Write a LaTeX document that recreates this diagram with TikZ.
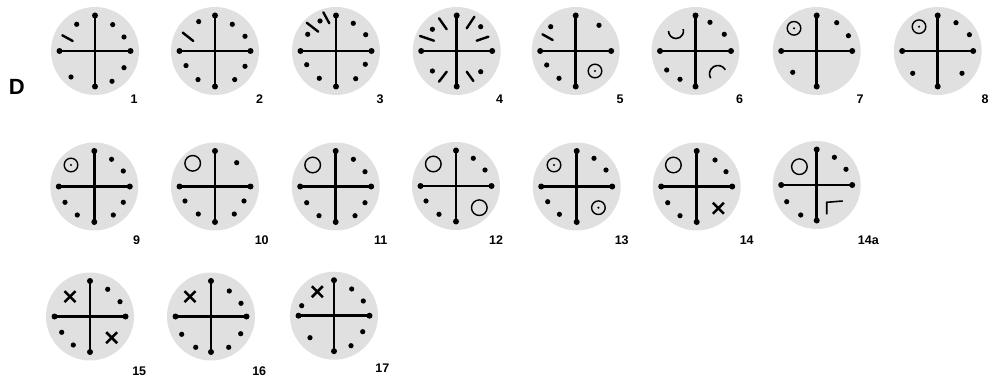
\documentclass[tikz,border=0pt]{standalone}
\usepackage{fontspec}
\setmainfont{Liberation Sans}
\tikzset{
  x=1pt, y=-1pt,
  discfill/.style={fill=black!12},
  arm/.style={line width=2.6pt},
  dashm/.style={line width=2.4pt, line cap=round},
  ringm/.style={line width=1.4pt},
  crossm/.style={line width=2.5pt},
  numlabel/.style={inner sep=0pt, font=\fontsize{12.5}{14}\selectfont\bfseries},
  biglabel/.style={inner sep=0pt, font=\fontsize{22}{24}\selectfont\bfseries}
}
\newcommand\rosebase{%
  \fill[discfill] (0,0) circle[radius=44pt];
  \draw[arm] (-35.5,0) -- (35.5,0);
  \draw[arm] (0,-35.5) -- (0,35.5);
  \foreach \q in {(-35.5,0),(35.5,0),(0,-35.5),(0,35.5)} \fill \q circle[radius=3pt];
}
\newcommand\spots[1]{\foreach \q in {#1} \fill \q circle[radius=2.6pt];}
\newcommand\ringdot[1]{\draw[ringm] #1 circle[radius=6.8pt]; \fill #1 circle[radius=1.2pt];}
\newcommand\ringo[1]{\draw[ringm] #1 circle[radius=7.8pt];}
\newcommand\xmark[1]{\draw[crossm] #1 ++(-5.5,-5.5) -- ++(11,11) #1 ++(-5.5,5.5) -- ++(11,-11);}
\begin{document}
\begin{tikzpicture}
\useasboundingbox (0,0) rectangle (998,385);
\node[biglabel] (D) at (16.7,87) {D};
% ---- row 1
\begin{scope}[shift={(95,51)}]
  \rosebase
  \spots{(-18.3,-26.7),(17.7,-26.4),(29,-14),(29,16.7),(17,30.3),(-24,26)}
  \draw[dashm] (-32.7,-15.7) -- (-22.3,-10);
\end{scope}
\node[numlabel] (n1) at (134,99.5) {1};
\begin{scope}[shift={(215,51)}]
  \rosebase
  \spots{(-16.3,-29.4),(17.3,-26.7),(30,-14.7),(30,15.3),(19.7,28.6),(-29,14.6),(-17,28.6)}
  \draw[dashm] (-32.3,-18.4) -- (-21.7,-10);
\end{scope}
\node[numlabel] (n2) at (259.5,99.5) {2};
\begin{scope}[shift={(336,51)}]
  \rosebase
  \spots{(-16,-30),(-28.3,-16.7),(17.3,-27.7),(29.7,-16.3),(29.3,13.3),(19.7,27.7),(-29.3,13.7),(-16.7,27.3)}
  \draw[dashm] (-29.3,-28.3) -- (-17.7,-19.3);
  \draw[dashm] (-12.7,-38.7) -- (-6.7,-27.7);
\end{scope}
\node[numlabel] (n3) at (380,99.5) {3};
\begin{scope}[shift={(456.7,51)}]
  \rosebase
  \spots{(-24.3,-21.7),(24,-24.3),(-24.3,20),(24,20.7)}
  \draw[dashm] (-36.7,-15) -- (-22.7,-10.3);
  \draw[dashm] (-17.7,-32.7) -- (-10,-21.7);
  \draw[dashm] (17.7,-34.3) -- (10,-22.7);
  \draw[dashm] (20,-10.3) -- (31.7,-14.3);
  \draw[dashm] (-17.7,30.7) -- (-10,20.7);
  \draw[dashm] (10,20.7) -- (16.7,30);
\end{scope}
\node[numlabel] (n4) at (499.5,99.5) {4};
\begin{scope}[shift={(575.7,51)}]
  \rosebase
  \spots{(-25,-24.3),(23.3,-25.7),(-29,14),(-16.7,27.3)}
  \draw[dashm] (-33.3,-16.7) -- (-23,-11);
  \ringdot{(19.3,20)}
\end{scope}
\node[numlabel] (n5) at (620,99.5) {5};
\begin{scope}[shift={(695.5,51)}]
  \rosebase
  \spots{(14.5,-28.7),(28.8,-16.7),(-28.8,19),(-15.5,28.3)}
  \draw[ringm, line width=1.6pt] (-27,-20) arc[start angle=180, end angle=375, radius=7.5pt];
  \draw[ringm, line width=1.6pt] (15.1,27.25) arc[start angle=210, end angle=30, radius=8.5pt];
\end{scope}
\node[numlabel] (n6) at (739.5,99.5) {6};
\begin{scope}[shift={(816.7,51)}]
  \rosebase
  \spots{(20,-28.3),(31.7,-15.3),(-24,21.3)}
  \ringdot{(-22.7,-22.7)}
\end{scope}
\node[numlabel] (n7) at (860,99.5) {7};
\begin{scope}[shift={(937.7,51)}]
  \rosebase
  \spots{(18.3,-28.3),(31.7,-16.3),(-25,22.3),(24.3,22.3)}
  \ringdot{(-18.7,-24.3)}
\end{scope}
\node[numlabel] (n8) at (985,99.5) {8};
% ---- row 2
\begin{scope}[shift={(94.3,186.5)}]
  \rosebase
  \spots{(17.3,-27.2),(29,-15.5),(-29.3,15.8),(-17,28.5),(29,15.8),(19,28.5)}
  \ringdot{(-23.3,-21.5)}
\end{scope}
\node[numlabel] (n9) at (136.7,240) {9};
\begin{scope}[shift={(215,186.5)}]
  \rosebase
  \spots{(21.7,-23.8),(-30,14.5),(-16.7,27.5),(29,14.5),(19.3,27.5)}
  \ringo{(-22.3,-23.2)}
\end{scope}
\node[numlabel] (n10) at (261.7,240) {10};
\begin{scope}[shift={(335.7,186.5)}]
  \rosebase
  \spots{(17.7,-27.2),(29.3,-14.8),(-29,16.2),(-16.7,29.2),(29.3,16.2),(19.3,29.2)}
  \ringo{(-23,-21.5)}
\end{scope}
\node[numlabel] (n11) at (380.8,240) {11};
\begin{scope}[shift={(456,186)}]
  \rosebase
  \spots{(17.3,-27.7),(29,-16),(-30,15),(-17,28.3)}
  \ringo{(-22.7,-22)}
  \ringo{(23.3,21.7)}
\end{scope}
\node[numlabel] (n12) at (496,240) {12};
\begin{scope}[shift={(576.7,186.5)}]
  \rosebase
  \spots{(17.3,-28.2),(29.3,-16.5),(-29,15.2),(-17.3,27.8)}
  \ringdot{(-22.7,-21.5)}
  \ringdot{(21.7,21.2)}
\end{scope}
\node[numlabel] (n13) at (621.7,240) {13};
\begin{scope}[shift={(696.7,186.5)}]
  \rosebase
  \spots{(18.3,-26.5),(29.3,-14.8),(-29,16.2),(-16.7,29.2)}
  \ringo{(-23.3,-21.5)}
  \xmark{(21.7,21.8)}
\end{scope}
\node[numlabel] (n14) at (746.7,240) {14};
\begin{scope}[shift={(816.7,185)}]
  \rosebase
  \spots{(17.7,-27.7),(29.3,-15.7),(-30,16.7),(-16,30)}
  \ringo{(-17.3,-18.3)}
  \draw[ringm, line width=1.6pt] (10,29.3) -- (10,17.3) -- (26,16);
\end{scope}
\node[numlabel] (n14a) at (868.3,240) {14a};
% ---- row 3
\begin{scope}[shift={(90,316.5)}]
  \rosebase
  \spots{(17.7,-27.2),(30,-14.8),(-28.3,15.8),(-16.7,28.5)}
  \xmark{(-20,-19.8)}
  \xmark{(21.7,21.2)}
\end{scope}
\node[numlabel] (n15) at (139.2,370.8) {15};
\begin{scope}[shift={(211,316.5)}]
  \rosebase
  \spots{(18.3,-25.5),(30,-13.2),(-29.3,17.8),(-15.3,30.8),(29.7,17.2),(17.7,30.8)}
  \xmark{(-21,-19.8)}
\end{scope}
\node[numlabel] (n16) at (259.2,370.8) {16};
\begin{scope}[shift={(334,315.7)}]
  \rosebase
  \spots{(-32.3,-10),(17.7,-26.7),(29.3,-14.7),(28.7,16),(17,30),(-24,22)}
  \xmark{(-16.7,-24)}
\end{scope}
\node[numlabel] (n17) at (382.3,368.3) {17};
\end{tikzpicture}
\end{document}
